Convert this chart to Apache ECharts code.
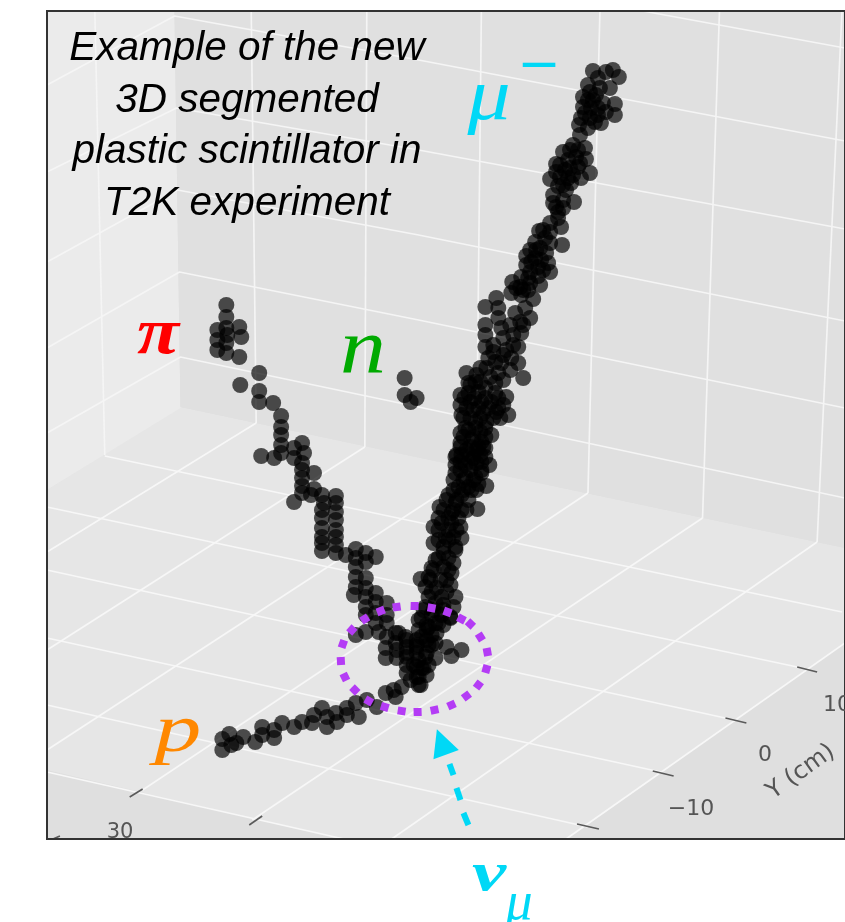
<!DOCTYPE html>
<html><head><meta charset="utf-8">
<style>html,body{margin:0;padding:0;background:#fff}#c{width:845px;height:922px}#c canvas{filter:blur(0.5px)}</style>
<script src="https://cdn.jsdelivr.net/npm/echarts@6/dist/echarts.min.js"></script>
</head><body><div id="c"></div>
<script>
// Hits, in picture units
const pionHits=[[227,305],[227,317],[218,330],[240,327],[227,328],[218,340],[242,337],[228,335],[218,350],[227,343],[227,353],[240,357],[260,373],[241,385],[260,391],[260,402],[274,403],[282,416],[282,427],[282,435],[303,443],[282,445],[295,448],[305,453],[262,456],[275,458],[282,453],[295,458],[303,463],[303,470],[315,473],[303,478],[303,486],[303,493],[315,489],[295,502],[312,495],[323,495],[337,496],[325,503],[337,503],[323,510],[337,512],[323,518],[337,520],[323,528],[337,530],[323,537],[337,537],[323,543],[337,545],[323,551],[337,553],[347,555],[357,549],[367,553],[377,557],[357,558],[367,562],[357,567],[357,577],[367,578],[357,587],[367,588],[355,595],[377,593],[367,597],[377,602],[367,607],[388,603],[367,615],[377,613],[388,615],[377,623],[388,623],[357,635],[367,632],[380,632],[397,633],[388,637],[397,643],[407,637]];
const vertexHits=[[387,648],[398,650],[387,658],[398,658],[408,657],[408,647],[418,647],[400,633],[408,640],[408,653],[408,665],[418,640],[418,653],[418,667],[418,677],[420,685],[408,673],[428,640],[428,653],[428,630],[420,620],[437,623],[452,618],[437,643],[437,658],[448,647],[453,656],[463,650],[438,633],[425,668],[428,675],[412,680],[415,665],[420,660],[430,665],[425,610],[435,610],[445,610]];
const protonHits=[[403,687],[395,690],[387,693],[397,697],[378,707],[368,700],[357,703],[360,717],[348,708],[337,713],[323,708],[315,715],[328,717],[313,723],[328,727],[338,722],[348,715],[303,722],[295,727],[283,723],[275,730],[275,738],[263,727],[263,735],[256,742],[244,737],[230,734],[237,743],[223,739],[232,745],[223,750]];
const neutronHits=[[406,378],[406,395],[412,402],[418,398]];
const muonUpperHits=[[595,71],[615,70],[621,77],[608,72],[600,78],[612,88],[602,88],[592,92],[585,97],[585,107],[595,100],[605,103],[617,104],[617,115],[593,108],[600,115],[587,113],[603,123],[581,125],[590,128],[582,135],[587,148],[575,145],[565,152],[588,159],[578,157],[570,160],[558,164],[580,167],[567,170],[592,173],[552,179],[562,177],[583,178],[573,183],[565,185],[555,195],[576,202],[555,203],[565,200],[560,212],[552,223],[563,227],[560,218],[541,231],[547,238],[537,242],[564,245],[552,243],[542,248],[528,256],[548,253],[537,258],[528,265],[550,263],[540,267],[552,272],[532,272],[514,282],[523,277],[542,285],[532,283],[522,287],[513,293],[523,295],[535,299],[590,85],[598,95],[590,100],[600,108],[608,112],[583,118],[592,118],[597,122],[580,150],[572,150],[582,163],[572,168],[562,165],[575,175],[558,172],[570,178],[560,186],[568,190],[558,207],[565,208],[552,232],[545,230],[538,250],[532,250],[543,260],[525,290],[530,290],[518,288],[530,278],[540,276],[545,270],[533,262]];
const muonForkHits=[[487,307],[498,298],[500,308],[500,318],[487,325],[487,335],[487,347],[503,328],[505,338],[532,318],[522,322],[517,313],[527,308],[523,333],[515,335],[520,347],[508,350],[495,352],[520,363],[525,378],[512,370],[503,363],[490,358],[482,368],[468,373],[500,373],[492,377],[482,382],[472,385],[495,345],[505,355],[513,358],[497,362],[488,368],[478,375],[505,380],[487,388],[477,382],[497,383],[470,383],[515,345],[525,325],[512,325]];
const muonLowerHits=[[462,395],[470,393],[480,392],[497,393],[508,397],[462,405],[472,402],[483,402],[493,402],[505,405],[463,415],[475,410],[485,413],[498,412],[510,415],[477,422],[488,422],[502,418],[462,433],[493,435],[470,430],[482,432],[462,443],[473,440],[483,442],[458,455],[468,450],[478,450],[487,448],[485,447],[457,457],[475,458],[487,457],[457,465],[491,465],[467,465],[478,463],[457,473],[467,477],[477,477],[483,473],[488,486],[460,487],[470,487],[480,484],[450,495],[463,495],[473,490],[441,507],[479,509],[457,503],[463,510],[453,513],[443,523],[435,527],[453,523],[462,527],[435,543],[463,538],[447,537],[455,537],[445,547],[457,547],[457,550],[445,553],[437,560],[455,563],[433,568],[445,567],[453,573],[430,577],[442,580],[452,585],[427,587],[438,588],[457,597],[430,597],[443,597],[455,607],[437,603],[427,607],[443,615],[452,617],[433,615],[423,618],[440,623],[430,627],[420,630],[433,635],[423,637],[430,645],[427,657],[423,668],[420,677],[422,685],[422,579]];
const muonCoreHits=[[466,398],[476,398],[487,398],[500,398],[468,408],[480,408],[490,408],[500,408],[465,418],[472,418],[482,418],[495,418],[467,428],[477,428],[487,428],[465,437],[475,437],[487,437],[462,447],[472,447],[480,447],[463,455],[472,455],[482,455],[462,462],[472,462],[483,462],[462,470],[472,470],[483,470],[455,480],[465,480],[475,480],[455,490],[465,490],[478,490],[448,500],[458,500],[470,500],[445,510],[455,510],[468,510],[440,518],[450,518],[460,518],[440,530],[450,530],[458,530],[440,540],[450,540],[440,558],[450,558],[435,570],[450,570],[432,580],[448,580],[433,592],[448,592],[445,605],[445,625],[428,625],[418,645],[433,645]];
// Dashed ring round the vertex, arrow dashes and arrow head
const ringDots=[[342,661],[344,644],[353,630],[366,619],[382,611],[398,607],[416,606],[433,608],[449,612],[463,619],[472,624],[482,637],[489,652],[488,669],[480,685],[468,696],[453,705],[436,710],[419,712],[403,711],[386,707],[370,701],[356,690],[346,677]];
const arrowDashes=[[[470,825],[465,813]],[[462,800],[458,788]],[[455,775],[451,764]]];
const arrowHead=[[443,742]];
// Painted panes and white rules of the 3D box
const leftWallPane=[[47,11],[175,11],[181,408],[47,490]];
const backWallPane=[[175,11],[848,11],[848,548],[181,407]];
const floorPane=[[47,490],[181,407],[848,548],[848,643],[568,840],[345,840],[47,770]];
const wallRules=[[[645,11],[848,48]],[[47,85],[175,16],[420,60],[848,141]],[[47,172],[177,108],[420,150],[848,229]],[[47,262],[178,190],[420,235],[848,321]],[[47,348],[180,272],[420,320],[848,408]],[[47,433],[181,357],[420,407],[848,498]],[[95,11],[105,455]],[[252,11],[257,423]],[[368,11],[366,447]],[[483,11],[478,470]],[[602,11],[590,493]],[[722,11],[705,518]],[[845,11],[820,542]]];
const floorRules=[[[105,456],[845,612]],[[47,507],[800,667]],[[47,570],[737,720]],[[47,638],[663,772]],[[47,705],[590,827]],[[47,772],[345,839]],[[257,423],[47,552]],[[366,447],[47,650]],[[478,470],[47,750]],[[590,493],[143,790]],[[705,518],[253,820]],[[820,542],[393,839]],[[848,643],[568,839]]];
const axisTicks=[[[800,667],[820,672]],[[728,718],[749,723]],[[655,771],[676,776]],[[579,824],[601,829]],[[130,797],[143,789]],[[250,825],[263,816]],[[53,839],[60,836]]];
// Text
const titleLines=['Example of the new','3D segmented','plastic scintillator in','T2K experiment'];
const yTickLabels=['\u221210','0','10'];
const xTickLabels=['30'];
const yAxisName='Y (cm)';

const hitTracks=[pionHits,vertexHits,protonHits,neutronHits,muonUpperHits,muonForkHits,muonLowerHits,muonCoreHits];
const CYAN='#00d8f6',PURPLE='#b43cf5';

function pane(points,color){
  return {type:'custom',coordinateSystem:'cartesian2d',silent:true,z:1,clip:true,data:[[points[0][0],points[0][1]]],
    renderItem:(p,api)=>({type:'polygon',shape:{points:points.map(q=>api.coord(q))},style:{fill:color}})};
}
function rule(points,color,width,z){
  return {type:'line',data:points,symbol:'none',silent:true,z:z,lineStyle:{color:color,width:width},animation:false};
}
function ringAngle(i){
  const n=ringDots.length,a=ringDots[(i+n-1)%n],b=ringDots[(i+1)%n];
  return -Math.atan2(b[1]-a[1],b[0]-a[0])*180/Math.PI;
}
const series=[
  pane([[47,11],[848,11],[848,839],[47,839]],'#dfdfdf'),
  pane(floorPane,'#e6e6e6'),pane(leftWallPane,'#ebebeb'),pane(backWallPane,'#e0e0e0'),
  ...wallRules.map(r=>rule(r,'#f5f5f5',1.6,2)),
  ...floorRules.map(r=>rule(r,'#f7f7f7',1.6,2)),
  ...axisTicks.map(r=>rule(r,'#5a5a5a',1.6,3)),
  ...hitTracks.map(t=>({type:'scatter',data:t,symbol:'circle',symbolSize:16,silent:true,z:4,itemStyle:{color:'#000',opacity:0.68}})),
  {type:'scatter',z:5,silent:true,symbol:'rect',symbolSize:8,data:ringDots.map((d,i)=>({value:d,symbolRotate:ringAngle(i)})),itemStyle:{color:PURPLE,opacity:1}},
  ...arrowDashes.map(r=>rule(r,CYAN,6,5)),
  {type:'scatter',z:5,silent:true,symbol:'triangle',symbolSize:27,symbolRotate:20,data:arrowHead,itemStyle:{color:CYAN,opacity:1}}
];
const SERIF='"Liberation Serif",serif',SANS='"DejaVu Sans",sans-serif';
function txt(t,x,y,font,fill,extra){
  return Object.assign({type:'text',z:20,x:x,y:y,silent:true,style:{text:t,font:font,fill:fill,textAlign:'center',textVerticalAlign:'middle'}},extra||{});
}
const titleY=[49,101,152,204];
const graphic=[
  ...titleLines.map((s,i)=>txt(s,247,titleY[i],'italic 40.5px "Liberation Sans",sans-serif','#000')),
  txt('\u03C0',158,336,'italic bold 77px '+SERIF,'#ff0000',{scaleY:0.85}),
  txt('n',363,352,'italic 92px '+SERIF,'#00aa00',{scaleY:0.85}),
  txt('p',178,733,'italic 90px '+SERIF,'#ff8800',{scaleY:0.74,scaleX:1.04}),
  txt('\u03BC',489,100,'italic 86px '+SERIF,CYAN,{scaleY:0.85}),
  txt('\u2212',539,67,'52px '+SANS,CYAN),
  txt('\u03BD',489,876,'italic bold 70px '+SERIF,CYAN,{scaleY:0.78,scaleX:1.1}),
  txt('\u03BC',519,905,'italic 54px '+SERIF,CYAN),
  txt(xTickLabels[0],120,833,'21px '+SANS,'#555'),
  txt(yTickLabels[0],691,809,'22px '+SANS,'#555'),
  txt(yTickLabels[1],765,755,'22px '+SANS,'#555'),
  txt(yTickLabels[2],837,705,'22px '+SANS,'#555'),
  txt(yAxisName,801,772,'24px '+SANS,'#555',{rotation:0.62})
];
const chart=echarts.init(document.getElementById('c'),null,{renderer:'canvas'});
chart.setOption({
  animation:false,
  grid:{left:47,top:11,right:-3,bottom:83,show:true,borderColor:'#333',borderWidth:2,backgroundColor:'transparent',z:10},
  xAxis:{type:'value',min:47,max:848,show:false},
  yAxis:{type:'value',min:11,max:839,inverse:true,show:false},
  series:series,graphic:graphic
});
</script></body></html>
